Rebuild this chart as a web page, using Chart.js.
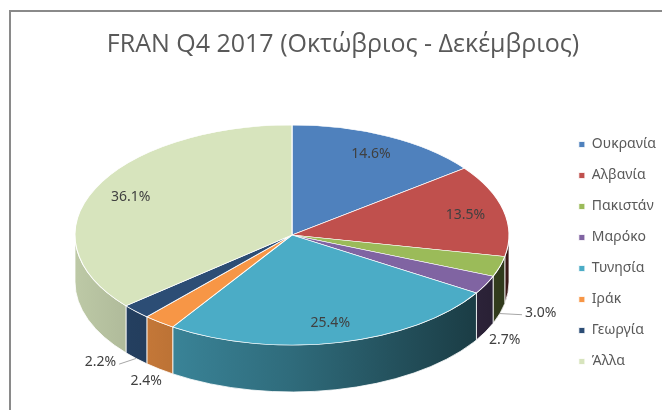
<!DOCTYPE html>
<html>
<head>
<meta charset="utf-8">
<script src="https://cdn.jsdelivr.net/npm/chart.js@4"></script>
<style>
html, body { margin: 0; padding: 0; background: #fff; overflow: hidden; }
#frame { position: absolute; left: 9px; top: 10px; width: 680px; height: 420px; border: 2px solid #8a8a8a; box-sizing: border-box; }
#wrap { position: absolute; left: 11px; top: 12px; width: 655px; height: 398px; }
</style>
</head>
<body>
<div id="frame"></div>
<div id="wrap"><canvas id="pieChart"></canvas></div>
<script>
const countries = ['Ουκρανία', 'Αλβανία', 'Πακιστάν', 'Μαρόκο', 'Τυνησία', 'Ιράκ', 'Γεωργία', 'Άλλα'];
const shares = [14.6, 13.5, 3.0, 2.7, 25.4, 2.4, 2.2, 36.1];
const colors = ['#4F81BD', '#C0504D', '#9BBB59', '#8064A2', '#4BACC6', '#F79646', '#2C4D75', '#D7E4BD'];

// where the tilted pie sits on the canvas
const tilt = { cx: 281, cy: 223, rx: 217, ry: 110, depth: 47 };

function shade(hex, f) {
    const n = parseInt(hex.slice(1), 16);
    const r = Math.round(((n >> 16) & 255) * f);
    const g = Math.round(((n >> 8) & 255) * f);
    const b = Math.round((n & 255) * f);
    return `rgb(${r}, ${g}, ${b})`;
}

const pie3d = {
    id: 'pie3d',
    beforeDatasetsDraw(chart) {
        const ctx = chart.ctx;
        const arcs = chart.getDatasetMeta(0).data;
        const { cx, cy, rx, ry, depth } = tilt;
        ctx.save();
        // side walls of the front half
        arcs.forEach((arc, i) => {
            const s = Math.max(arc.startAngle, 0);
            const e = Math.min(arc.endAngle, Math.PI);
            if (e <= s) return;
            const grad = ctx.createLinearGradient(cx - rx, 0, cx + rx, 0);
            grad.addColorStop(0, shade(colors[i], 0.88));
            grad.addColorStop(0.5, shade(colors[i], 0.62));
            grad.addColorStop(1, shade(colors[i], 0.3));
            ctx.beginPath();
            ctx.ellipse(cx, cy, rx, ry, 0, s, e);
            ctx.ellipse(cx, cy + depth, rx, ry, 0, e, s, true);
            ctx.closePath();
            ctx.fillStyle = grad;
            ctx.fill();
            ctx.strokeStyle = 'rgba(255, 255, 255, 0.8)';
            ctx.lineWidth = 1;
            ctx.stroke();
        });
        // squash the flat pie into the top face
        const a0 = arcs[0];
        ctx.translate(cx, cy);
        ctx.scale(rx / a0.outerRadius, ry / a0.outerRadius);
        ctx.translate(-a0.x, -a0.y);
    },
    afterDatasetsDraw(chart) {
        const ctx = chart.ctx;
        ctx.restore();
        const arcs = chart.getDatasetMeta(0).data;
        const { cx, cy, rx, ry, depth } = tilt;
        ctx.save();
        ctx.font = '14px "Noto Sans"';
        ctx.fillStyle = '#404040';
        ctx.textAlign = 'center';
        ctx.textBaseline = 'middle';
        const outside = [];
        arcs.forEach((arc, i) => {
            const m = (arc.startAngle + arc.endAngle) / 2;
            const text = shares[i].toFixed(1) + '%';
            if (shares[i] > 5) {
                ctx.fillText(text, cx + 0.82 * rx * Math.cos(m), cy + 0.82 * ry * Math.sin(m));
            } else {
                outside.push({ text, m, x: cx + 1.1 * rx * Math.cos(m), y: cy + depth + 3 + 1.1 * ry * Math.sin(m), lead: false });
            }
        });
        // push apart small labels that would collide
        for (let k = 1; k < outside.length; k++) {
            const p = outside[k - 1], q = outside[k];
            if (Math.hypot(p.x - q.x, p.y - q.y) < 32) {
                const mover = Math.abs(Math.cos(p.m)) > Math.abs(Math.cos(q.m)) ? p : q;
                const dir = Math.sign(Math.cos(mover.m));
                mover.x += dir * 20;
                mover.y -= 7;
                mover.lead = true;
            }
        }
        outside.forEach(o => {
            if (o.lead) {
                const dir = Math.sign(Math.cos(o.m));
                const w = ctx.measureText(o.text).width;
                ctx.beginPath();
                ctx.moveTo(cx + rx * Math.cos(o.m), cy + depth + ry * Math.sin(o.m));
                ctx.lineTo(o.x - dir * (w / 2 + 3), o.y + 2);
                ctx.strokeStyle = '#a6a6a6';
                ctx.lineWidth = 1;
                ctx.stroke();
            }
            ctx.fillText(o.text, o.x, o.y);
        });
        ctx.restore();
    }
};

new Chart(document.getElementById('pieChart'), {
    type: 'pie',
    data: {
        labels: countries,
        datasets: [{
            data: shares,
            backgroundColor: colors,
            borderColor: '#ffffff',
            borderWidth: 0.8,
            clip: false
        }]
    },
    options: {
        responsive: true,
        maintainAspectRatio: false,
        animation: false,
        events: [],
        layout: {
            padding: { left: 9, right: 0, top: 0, bottom: 0 }
        },
        plugins: {
            title: {
                display: true,
                text: 'FRAN Q4 2017 (Οκτώβριος - Δεκέμβριος)',
                color: '#595959',
                font: { family: 'Open Sans', size: 25, weight: 'normal' },
                padding: { top: 18, bottom: 36 }
            },
            legend: {
                position: 'right',
                fullSize: false,
                labels: {
                    boxWidth: 6,
                    boxHeight: 6,
                    padding: 17,
                    color: '#595959',
                    font: { family: 'Noto Sans', size: 14 }
                }
            },
            tooltip: { enabled: false }
        }
    },
    plugins: [pie3d]
});
</script>
</body>
</html>
